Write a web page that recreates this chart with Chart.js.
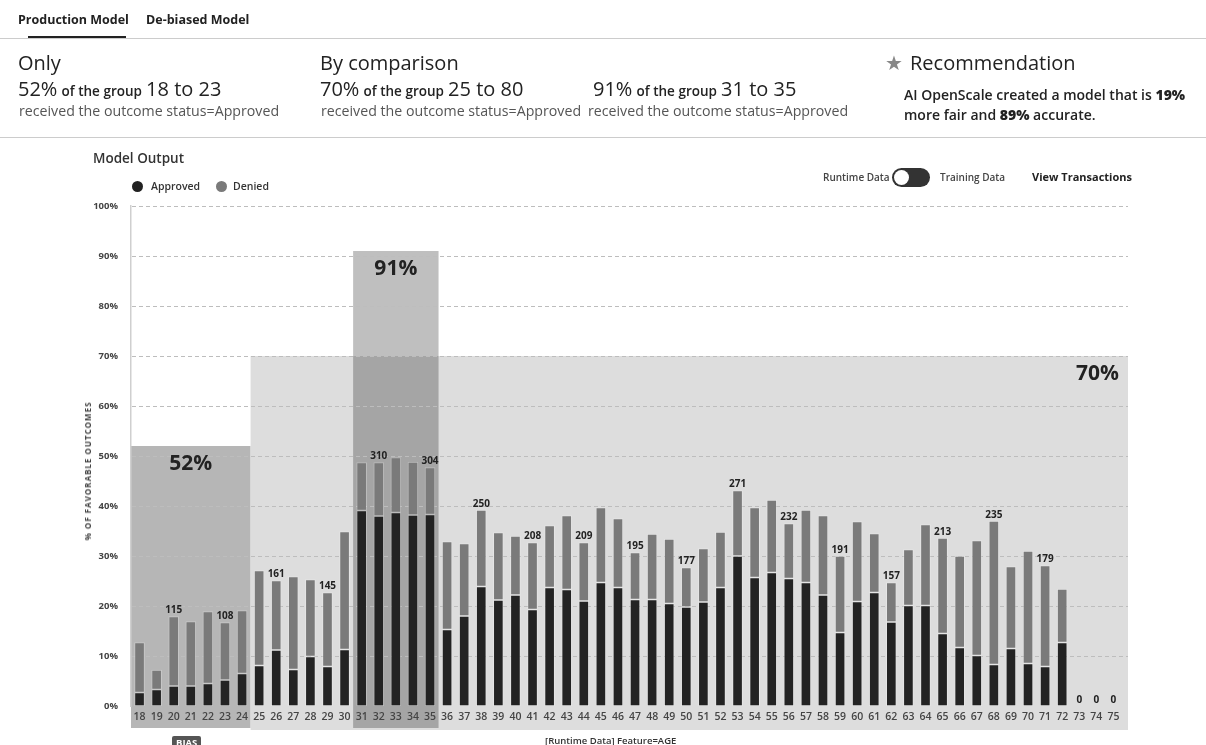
<!DOCTYPE html>
<html>
<head>
<meta charset="utf-8">
<script src="https://cdn.jsdelivr.net/npm/chart.js@4.4.1/dist/chart.umd.min.js"></script>
<style>
  body { margin: 0; width: 1206px; height: 745px; overflow: hidden; background: #fff;
         font-family: "Open Sans", "Noto Sans", sans-serif; color: #222; position: relative; }
  .abs { position: absolute; white-space: nowrap; line-height: 1; }
  #chart-wrap { position: absolute; left: 0; top: 0; width: 1206px; height: 745px; }
  .big { font-size: 20px; }
  .mid { font-size: 13.5px; font-weight: 600; }
  .sub { font-size: 14.2px; color: #555; }
  .dot { position: absolute; width: 11px; height: 11px; border-radius: 50%; }
</style>
</head>
<body>
<div id="chart-wrap"><canvas id="model-chart" width="1206" height="745"></canvas></div>

<!-- tabs -->
<div class="abs" style="left:18px;top:14px;font-size:12.5px;font-weight:700;">Production Model</div>
<div class="abs" style="left:146px;top:14px;font-size:12.5px;font-weight:700;">De-biased Model</div>
<div class="abs" style="left:0;top:38px;width:1206px;height:1px;background:#ccc;"></div>
<div class="abs" style="left:28px;top:36px;width:98px;height:2px;background:#222;"></div>

<!-- summary -->
<div class="abs big" style="left:18px;top:53px;">Only</div>
<div class="abs" style="left:18px;top:79px;"><span class="big">52%</span> <span class="mid">of the group</span> <span class="big">18 to 23</span></div>
<div class="abs sub" style="left:19px;top:104px;">received the outcome status=Approved</div>

<div class="abs big" style="left:320px;top:53px;">By comparison</div>
<div class="abs" style="left:320px;top:79px;"><span class="big">70%</span> <span class="mid">of the group</span> <span class="big">25 to 80</span></div>
<div class="abs sub" style="left:321px;top:104px;">received the outcome status=Approved</div>

<div class="abs" style="left:593px;top:79px;"><span class="big">91%</span> <span class="mid">of the group</span> <span class="big">31 to 35</span></div>
<div class="abs sub" style="left:588px;top:104px;">received the outcome status=Approved</div>

<div class="abs" style="left:885px;top:53px;font-size:20px;color:#888;">&#9733;</div>
<div class="abs big" style="left:910px;top:53px;">Recommendation</div>
<div class="abs" style="left:904px;top:88px;font-size:14px;font-weight:600;">AI OpenScale created a model that is <b>19%</b></div>
<div class="abs" style="left:904px;top:108px;font-size:14px;font-weight:600;">more fair and <b>89%</b> accurate.</div>
<div class="abs" style="left:0;top:137px;width:1206px;height:1px;background:#ccc;"></div>

<!-- chart header -->
<div class="abs" style="left:93px;top:152px;font-size:13.5px;font-weight:600;color:#333;">Model Output</div>
<div class="dot" style="left:132px;top:181px;background:#222;"></div>
<div class="abs" style="left:151px;top:181px;font-size:10.5px;font-weight:600;color:#333;">Approved</div>
<div class="dot" style="left:216px;top:181px;background:#7a7a7a;"></div>
<div class="abs" style="left:233px;top:181px;font-size:10.5px;font-weight:600;color:#333;">Denied</div>

<div class="abs" style="left:823px;top:172px;font-size:10px;font-weight:600;color:#444;">Runtime Data</div>
<div class="abs" style="left:892px;top:168px;width:38px;height:19px;border-radius:10px;background:#333;"></div>
<div class="abs" style="left:894px;top:170px;width:15px;height:15px;border-radius:8px;background:#fff;"></div>
<div class="abs" style="left:940px;top:172px;font-size:10px;font-weight:600;color:#444;">Training Data</div>
<div class="abs" style="left:1032px;top:171px;font-size:11px;font-weight:700;color:#222;">View Transactions</div>

<div class="abs" style="left:88px;top:471px;font-size:8px;font-weight:700;color:#444;letter-spacing:1px;transform:translate(-50%,-50%) rotate(-90deg);">% OF FAVORABLE OUTCOMES</div>

<div class="abs" style="left:172px;top:736px;padding:2px 4px;background:#555;color:#fff;font-size:9.5px;font-weight:700;border-radius:2px;">BIAS</div>
<div class="abs" style="left:545px;top:736px;font-size:9.5px;font-weight:600;color:#333;">[Runtime Data] Feature=AGE</div>

<script>
// ages 18..75
const ages = ["18","19","20","21","22","23","24","25","26","27","28","29","30","31","32","33","34","35","36","37","38","39","40","41","42","43","44","45","46","47","48","49","50","51","52","53","54","55","56","57","58","59","60","61","62","63","64","65","66","67","68","69","70","71","72","73","74","75"];

// % approved (dark part)
const approved = [2.7,3.3,4.0,4.0,4.5,5.2,6.5,8.1,11.2,7.3,9.9,7.9,11.3,39.1,38.0,38.7,38.2,38.3,15.3,18.0,23.9,21.2,22.2,19.3,23.7,23.3,21.0,24.7,23.7,21.3,21.3,20.5,19.8,20.8,23.7,30.0,25.7,26.7,25.5,24.7,22.2,14.7,20.9,22.7,16.8,20.1,20.1,14.5,11.7,10.1,8.3,11.5,8.5,7.9,12.7,0,0,0];

// % denied (gray part stacked on top)
const denied = [10.0,3.9,13.9,12.9,14.4,11.5,12.6,19.0,13.9,18.6,15.4,14.8,23.6,9.6,10.7,11.0,10.6,9.4,17.6,14.5,15.3,13.5,11.8,13.4,12.4,14.8,11.7,15.0,13.8,9.4,13.1,12.9,7.9,10.7,11.1,13.1,14.0,14.5,11.0,14.5,15.9,15.3,16.0,11.8,7.9,11.2,16.2,19.1,18.3,23.0,28.7,16.4,22.5,20.2,10.7,0,0,0];

// record counts shown above some bars
const counts = [null,null,115,null,null,108,null,null,161,null,null,145,null,null,310,null,null,304,null,null,250,null,null,208,null,null,209,null,null,195,null,null,177,null,null,271,null,null,232,null,null,191,null,null,157,null,null,213,null,null,235,null,null,179,null,0,0,0];

// highlighted groups
const groupLabels = ["52%", "70%", "91%"];
const groupValues = [52, 70, 91];
const groupFrom = ["18", "25", "31"];
const groupTo = ["24", "75", "35"];

const yTicks = [0,10,20,30,40,50,60,70,80,90,100];

const bandStyle = [
  { fill: '#b6b6b6', align: 'center' },
  { fill: '#dddddd', align: 'right' },
  { fill: 'rgba(0,0,0,0.25)', align: 'center' }
];

function bandEdges(chart, i) {
  const x = chart.scales.x;
  const half = (x.getPixelForValue(1) - x.getPixelForValue(0)) / 2;
  const left = i === 0 ? chart.chartArea.left : x.getPixelForValue(ages.indexOf(groupFrom[i])) - half;
  let right = x.getPixelForValue(ages.indexOf(groupTo[i])) + half;
  if (groupTo[i] === ages[ages.length - 1]) right += 6;
  return [left, right];
}

// group bands behind everything
const bandsPlugin = {
  id: 'bands',
  beforeDraw(chart) {
    const { ctx, chartArea, scales: { y } } = chart;
    groupLabels.forEach((label, i) => {
      const [left, right] = bandEdges(chart, i);
      const top = y.getPixelForValue(groupValues[i]);
      const bottom = chartArea.bottom + (i === 1 ? 24 : 22);
      ctx.save();
      ctx.fillStyle = bandStyle[i].fill;
      ctx.fillRect(left, top, right - left, bottom - top);
      ctx.restore();
    });
  },
  afterDatasetsDraw(chart) {
    const { ctx, scales: { y } } = chart;
    ctx.save();
    ctx.font = 'bold 21px "Open Sans", sans-serif';
    ctx.fillStyle = '#222';
    ctx.textBaseline = 'middle';
    groupLabels.forEach((label, i) => {
      const [left, right] = bandEdges(chart, i);
      const ty = y.getPixelForValue(groupValues[i]) + 18;
      if (bandStyle[i].align === 'right') {
        ctx.textAlign = 'right';
        ctx.fillText(label, right - 9, ty);
      } else {
        ctx.textAlign = 'center';
        ctx.fillText(label, (left + right) / 2, ty);
      }
    });
    ctx.restore();
  }
};

// dashed horizontal grid, over the bands but under the bars
const gridPlugin = {
  id: 'dashGrid',
  beforeDatasetsDraw(chart) {
    const { ctx, chartArea, scales: { y } } = chart;
    ctx.save();
    ctx.strokeStyle = '#bdbdbd';
    ctx.lineWidth = 1;
    ctx.setLineDash([4, 3]);
    yTicks.forEach(v => {
      if (v === 0) return;
      const py = Math.round(y.getPixelForValue(v)) + 0.5;
      ctx.beginPath();
      ctx.moveTo(chartArea.left + 1, py);
      ctx.lineTo(chartArea.right + 6, py);
      ctx.stroke();
    });
    ctx.restore();
  }
};

// counts above bars
const countsPlugin = {
  id: 'counts',
  afterDatasetsDraw(chart) {
    const { ctx, scales: { y } } = chart;
    const meta = chart.getDatasetMeta(1);
    ctx.save();
    ctx.font = 'bold 10px "Open Sans", sans-serif';
    ctx.fillStyle = '#222';
    ctx.textAlign = 'center';
    ctx.textBaseline = 'bottom';
    counts.forEach((c, i) => {
      if (c === null) return;
      const bar = meta.data[i];
      const top = y.getPixelForValue(approved[i] + denied[i]);
      ctx.fillText(String(c), bar.x, top - 1);
    });
    ctx.restore();
  }
};

new Chart(document.querySelector('#model-chart').getContext('2d'), {
  type: 'bar',
  data: {
    labels: ages,
    datasets: [
      { label: 'Approved', data: approved, backgroundColor: '#232323',
        borderColor: 'rgba(255,255,255,0.25)', borderWidth: 1, borderSkipped: false, barThickness: 10 },
      { label: 'Denied', data: denied, backgroundColor: '#7a7a7a',
        borderColor: 'rgba(255,255,255,0.25)', borderWidth: 1, borderSkipped: false, barThickness: 10 }
    ]
  },
  options: {
    responsive: false,
    animation: false,
    layout: { padding: { left: 0, right: 84, top: 206, bottom: 9 } },
    plugins: { legend: { display: false }, tooltip: { enabled: false } },
    scales: {
      x: {
        stacked: true,
        grid: { display: false, drawTicks: false },
        border: { display: false },
        ticks: { autoSkip: false, maxRotation: 0, padding: 5, color: '#444',
                 font: { family: '"Open Sans", sans-serif', size: 10.5, weight: '600' } },
        afterFit(scale) { scale.height = 30; }
      },
      y: {
        stacked: true,
        min: 0, max: 100,
        grid: { display: false, drawTicks: false },
        border: { display: true, color: '#cfcfcf', width: 1.5 },
        ticks: { stepSize: 10, padding: 13, color: '#444',
                 font: { family: '"Open Sans", sans-serif', size: 9.5, weight: 'bold' },
                 callback: v => v + '%' },
        afterFit(scale) { scale.width = 131; }
      }
    }
  },
  plugins: [bandsPlugin, gridPlugin, countsPlugin]
});
</script>
</body>
</html>
